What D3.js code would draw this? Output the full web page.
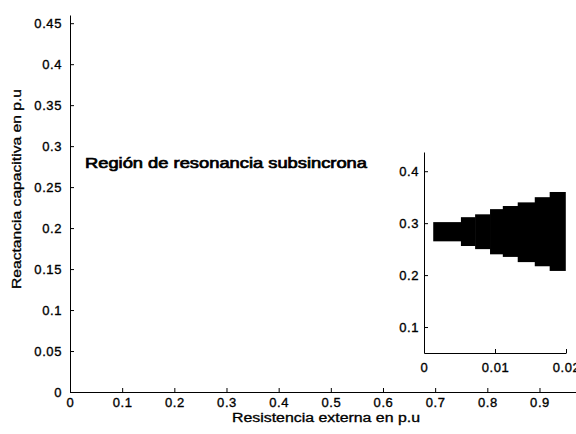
<!DOCTYPE html>
<html>
<head>
<meta charset="utf-8">
<script src="https://cdn.jsdelivr.net/npm/d3@7/dist/d3.min.js"></script>
<style>
  html, body { margin: 0; padding: 0; background: #fff; }
  svg { display: block; }
  text { font-family: "Liberation Sans", Arial, sans-serif; fill: #000; }
</style>
</head>
<body>
<svg id="chart" width="576" height="434"></svg>
<script>
// ---- data ----
const mainXTicks = [0, 0.1, 0.2, 0.3, 0.4, 0.5, 0.6, 0.7, 0.8, 0.9];
const mainYTicks = [0, 0.05, 0.1, 0.15, 0.2, 0.25, 0.3, 0.35, 0.4, 0.45];
const insetXTicks = [0, 0.01, 0.02];
const insetYTicks = [0.1, 0.2, 0.3, 0.4];
// inset: region of subsynchronous resonance, one column per resistance step
const resEdges = [0.0013, 0.0052, 0.0072, 0.0093, 0.0111, 0.0132, 0.0156, 0.0177, 0.0199];
const xcTop    = [0.302, 0.3115, 0.317, 0.327, 0.333, 0.340, 0.350, 0.360];
const xcBottom = [0.265, 0.256, 0.250, 0.240, 0.235, 0.225, 0.217, 0.208];
const xLabel = "Resistencia externa en p.u";
const yLabel = "Reactancia capacitiva en p.u";
const annotation = "Región de resonancia subsincrona";

const fmt = v => String(+v.toFixed(2));
const svg = d3.select("#chart");

function styleAxis(g) {
  g.selectAll("text").style("font-size", "13px").attr("fill", "#000")
   .style("font-family", "'Liberation Sans', Arial, sans-serif")
   .style("letter-spacing", "0.6px")
   .attr("stroke", "#000").attr("stroke-width", 0.35);
  g.selectAll("line, path").attr("stroke", "#000").attr("stroke-width", 1);
}

// ---- main axes ----
const x = d3.scaleLinear().domain([0, 0.97]).range([70, 576]);
const y = d3.scaleLinear().domain([0, 0.46]).range([392, 15]);

const gx = svg.append("g").attr("transform", `translate(0,${y(0)})`)
  .call(d3.axisBottom(x).tickValues(mainXTicks).tickFormat(fmt)
        .tickSizeInner(-4).tickSizeOuter(0).tickPadding(6));
const gy = svg.append("g").attr("transform", `translate(${x(0)},0)`)
  .call(d3.axisLeft(y).tickValues(mainYTicks).tickFormat(fmt)
        .tickSizeInner(-4).tickSizeOuter(0).tickPadding(8));
styleAxis(gx); styleAxis(gy);

svg.append("text").attr("x", 326).attr("y", 422).attr("text-anchor", "middle")
  .style("font-size", "12px").attr("stroke", "#000").attr("stroke-width", 0.3)
  .attr("textLength", 188).attr("lengthAdjust", "spacingAndGlyphs")
  .text(xLabel);
svg.append("text").attr("transform", "translate(21,189) rotate(-90)")
  .attr("text-anchor", "middle").style("font-size", "12.5px")
  .attr("stroke", "#000").attr("stroke-width", 0.3)
  .attr("textLength", 200).attr("lengthAdjust", "spacingAndGlyphs")
  .text(yLabel);

svg.append("text").attr("x", 85).attr("y", 168)
  .style("font-size", "14.5px")
  .attr("stroke", "#000").attr("stroke-width", 0.7)
  .attr("textLength", 282).attr("lengthAdjust", "spacingAndGlyphs")
  .text(annotation);

// ---- inset axes ----
const ix = d3.scaleLinear().domain([0, 0.02]).range([424, 566]);
const iy = d3.scaleLinear().domain([0.05, 0.437]).range([353, 152]);

const cols = d3.range(xcTop.length).map(i => ({
  x0: resEdges[i], x1: resEdges[i + 1], top: xcTop[i], bottom: xcBottom[i]
}));
svg.append("g").selectAll("rect").data(cols).join("rect")
  .attr("x", d => ix(d.x0))
  .attr("width", d => ix(d.x1) - ix(d.x0) + 0.5)
  .attr("y", d => iy(d.top))
  .attr("height", d => iy(d.bottom) - iy(d.top))
  .attr("fill", "#000");

const igx = svg.append("g").attr("transform", `translate(0,${iy(0.05)})`)
  .call(d3.axisBottom(ix).tickValues(insetXTicks).tickFormat(fmt)
        .tickSizeInner(-4).tickSizeOuter(0).tickPadding(10));
const igy = svg.append("g").attr("transform", `translate(${ix(0)},0)`)
  .call(d3.axisLeft(iy).tickValues(insetYTicks).tickFormat(fmt)
        .tickSizeInner(-4).tickSizeOuter(0).tickPadding(5));
styleAxis(igx); styleAxis(igy);
</script>
</body>
</html>
